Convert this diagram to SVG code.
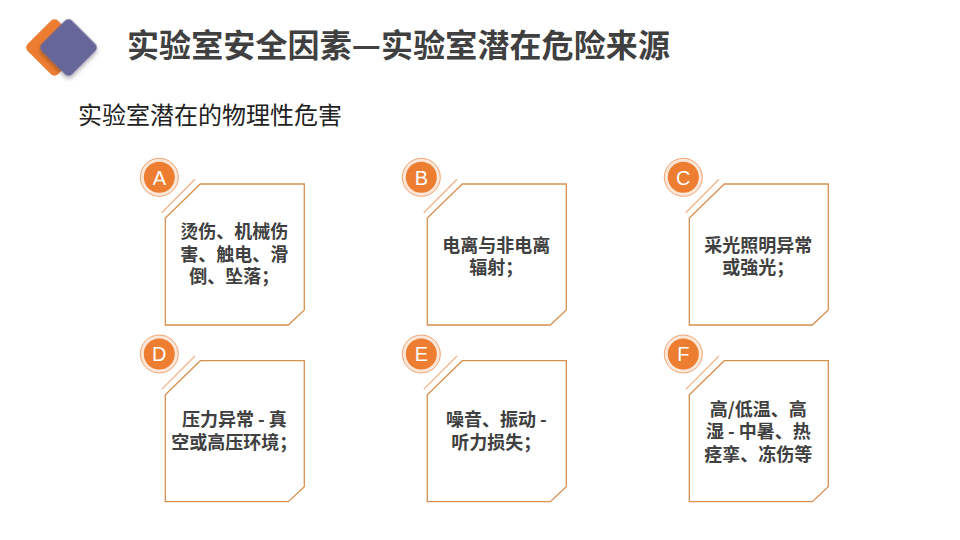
<svg xmlns="http://www.w3.org/2000/svg" width="960" height="540" viewBox="0 0 960 540">
<defs>
<style>
.box{fill:#ffffff;stroke:#D8904F;stroke-width:1.3}
.diag{stroke:#F2B48A;stroke-width:1.3}
.ring{fill:#FCE6D8;stroke:#EFA574;stroke-width:1}
.dot{fill:#ED7D31}
.lt{font-family:"Liberation Sans",Arial,sans-serif;font-size:20px;fill:#ffffff;text-anchor:middle}
.bt{font-family:"Noto Sans CJK SC","Noto Sans",sans-serif;font-size:18px;font-weight:bold;fill:#404040;text-anchor:middle}
.title{font-family:"Noto Sans CJK SC",sans-serif;font-size:32px;font-weight:bold;fill:#404040}
.sub{font-family:"Noto Sans CJK SC",sans-serif;font-size:24px;fill:#222222}
</style>
<filter id="sh" x="-30%" y="-30%" width="160%" height="160%">
<feDropShadow dx="2" dy="2" stdDeviation="2" flood-color="#000" flood-opacity="0.3"/>
</filter>
<path id="card" d="M35 0 H139 V126 L123 141 H0 V34 Z"/>
</defs>
<rect width="960" height="540" fill="#ffffff"/>
<g id="logo">
<rect x="-21.5" y="-21.5" width="43" height="43" rx="5" fill="#ED7D31" transform="translate(54.5 47.5) rotate(45)"/>
<rect x="-21.5" y="-21.5" width="43" height="43" rx="5" fill="#666699" filter="url(#sh)" transform="translate(68.5 47.5) rotate(45)"/>
</g>
<g id="title"><text class="title" x="127" y="57" textLength="543" lengthAdjust="spacing">实验室安全因素—实验室潜在危险来源</text></g>
<g id="subtitle"><text class="sub" x="78" y="124">实验室潜在的物理性危害</text></g>
<g id="connectors"></g>
<g id="node-A" transform="translate(165.3 184)">
<use href="#card" class="box"/>
<line class="diag" x1="-3.6" y1="28.7" x2="29.7" y2="-4.7"/>
<circle class="ring" cx="-6" cy="-6.7" r="19"/>
<circle class="dot" cx="-6" cy="-6.7" r="15.5"/>
<text class="lt" x="-6" y="0.5">A</text>
<text class="bt" x="69" y="54">烫伤、机械伤</text>
<text class="bt" x="69" y="77">害、触电、滑</text>
<text class="bt" x="69" y="99">倒、坠落；</text>
</g>
<g id="node-B" transform="translate(427.3 184)">
<use href="#card" class="box"/>
<line class="diag" x1="-3.6" y1="28.7" x2="29.7" y2="-4.7"/>
<circle class="ring" cx="-6" cy="-6.7" r="19"/>
<circle class="dot" cx="-6" cy="-6.7" r="15.5"/>
<text class="lt" x="-6" y="0.5">B</text>
<text class="bt" x="69" y="67.5">电离与非电离</text>
<text class="bt" x="69" y="89.5">辐射；</text>
</g>
<g id="node-C" transform="translate(689.3 184)">
<use href="#card" class="box"/>
<line class="diag" x1="-3.6" y1="28.7" x2="29.7" y2="-4.7"/>
<circle class="ring" cx="-6" cy="-6.7" r="19"/>
<circle class="dot" cx="-6" cy="-6.7" r="15.5"/>
<text class="lt" x="-6" y="0.5">C</text>
<text class="bt" x="69" y="67.5">采光照明异常</text>
<text class="bt" x="69" y="89.5">或強光；</text>
</g>
<g id="node-D" transform="translate(165.3 360.7)">
<use href="#card" class="box"/>
<line class="diag" x1="-3.6" y1="28.7" x2="29.7" y2="-4.7"/>
<circle class="ring" cx="-6" cy="-6.7" r="19"/>
<circle class="dot" cx="-6" cy="-6.7" r="15.5"/>
<text class="lt" x="-6" y="0.5">D</text>
<text class="bt" x="69" y="65.5">压力异常 - 真</text>
<text class="bt" x="69" y="88.5">空或高压环境；</text>
</g>
<g id="node-E" transform="translate(427.3 360.7)">
<use href="#card" class="box"/>
<line class="diag" x1="-3.6" y1="28.7" x2="29.7" y2="-4.7"/>
<circle class="ring" cx="-6" cy="-6.7" r="19"/>
<circle class="dot" cx="-6" cy="-6.7" r="15.5"/>
<text class="lt" x="-6" y="0.5">E</text>
<text class="bt" x="69" y="65">噪音、振动 -</text>
<text class="bt" x="69" y="88">听力损失；</text>
</g>
<g id="node-F" transform="translate(689.3 360.7)">
<use href="#card" class="box"/>
<line class="diag" x1="-3.6" y1="28.7" x2="29.7" y2="-4.7"/>
<circle class="ring" cx="-6" cy="-6.7" r="19"/>
<circle class="dot" cx="-6" cy="-6.7" r="15.5"/>
<text class="lt" x="-6" y="0.5">F</text>
<text class="bt" x="69" y="55">高/低温、高</text>
<text class="bt" x="69" y="77.5">湿 - 中暑、热</text>
<text class="bt" x="69" y="100">痉挛、冻伤等</text>
</g>
</svg>
